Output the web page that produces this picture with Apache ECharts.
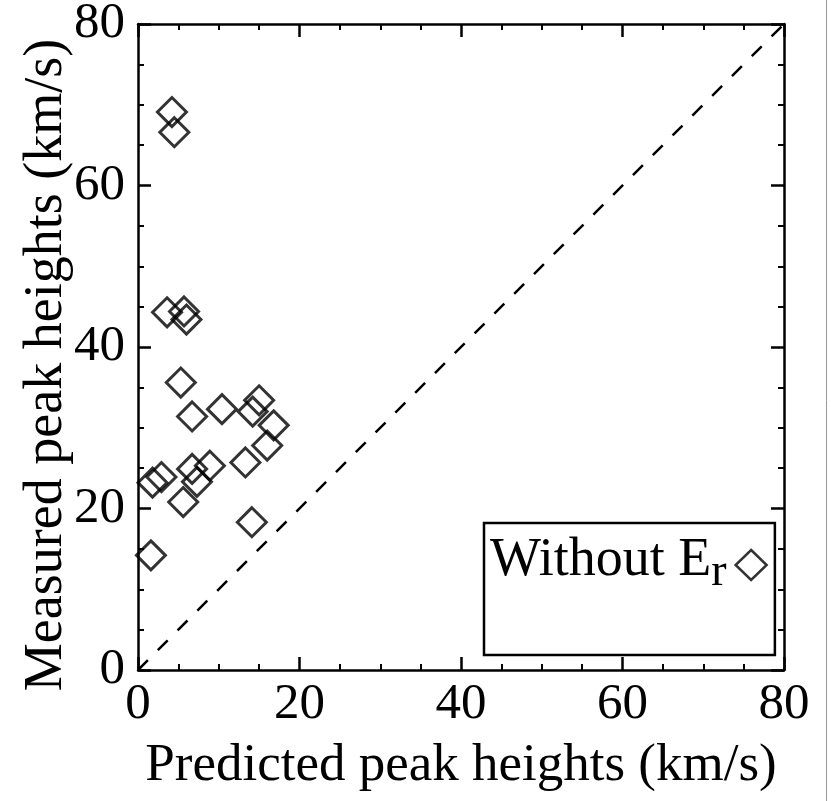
<!DOCTYPE html>
<html><head><meta charset="utf-8">
<script src="https://cdn.jsdelivr.net/npm/echarts@6/dist/echarts.min.js"></script>
<style>html,body{margin:0;padding:0;background:#fff}#c{width:831px;height:801px}</style>
</head><body><div id="c"></div>
<script>
// ---- data ----
const xTickValues = [0, 20, 40, 60, 80];
const yTickValues = [0, 20, 40, 60, 80];
const predicted = [4.2, 4.5, 3.6, 5.7, 6.0, 5.3, 6.7, 10.4, 14.2, 15.0, 16.8, 16.0, 13.3, 6.7, 7.3, 8.9, 1.8, 2.9, 5.6, 14.1, 1.6];
const measured  = [69.1, 66.6, 44.3, 44.4, 43.4, 35.6, 31.4, 32.3, 32.0, 33.4, 30.3, 27.8, 25.7, 24.9, 23.3, 25.3, 23.2, 23.9, 20.8, 18.3, 14.2];
const refLineX = [0, 80];
const refLineY = [0, 80];
const seriesName = 'Without Er';
const xName = 'Predicted peak heights (km/s)';
const yName = 'Measured peak heights (km/s)';

const FONT = '"Liberation Serif", "Times New Roman", serif';
const chart = echarts.init(document.getElementById('c'), null, {renderer: 'canvas'});

function axisBase(pos, showLabel) {
  return {
    type: 'value', min: 0, max: 80, interval: 20, position: pos,
    axisLine: {show: true, onZero: false, lineStyle: {color: '#000', width: 2.5}},
    axisTick: {show: true, inside: true, length: 13, lineStyle: {color: '#000', width: 2.5}},
    minorTick: {show: true, splitNumber: 4, length: 6, lineStyle: {color: '#000', width: 2}},
    splitLine: {show: false},
    axisLabel: {show: showLabel, fontFamily: FONT, fontSize: 51, color: '#000',
      formatter: v => String(v)}
  };
}

const xBottom = Object.assign(axisBase('bottom', true), {
  name: xName, nameLocation: 'middle', nameGap: 70, nameMoveOverlap: false,
  nameTextStyle: {fontFamily: FONT, fontSize: 53, color: '#000'}
});
xBottom.axisLabel.margin = 9;
const yLeft = Object.assign(axisBase('left', true), {
  name: yName, nameLocation: 'middle', nameGap: 64, nameRotate: 90, nameMoveOverlap: false,
  nameTextStyle: {fontFamily: FONT, fontSize: 54, color: '#000', padding: [0, 36, 0, 0]}
});
yLeft.axisLabel.margin = 13;

const pts = predicted.map((x, i) => [x, measured[i]]);
const refLine = refLineX.map((x, i) => [x, refLineY[i]]);

chart.setOption({
  animation: false,
  backgroundColor: '#fff',
  grid: {left: 138, right: 47, top: 24, bottom: 131, containLabel: false, outerBoundsMode: 'none'},
  xAxis: [xBottom, axisBase('top', false)],
  yAxis: [yLeft, axisBase('right', false)],
  legend: {
    show: true, left: 484, top: 523, orient: 'horizontal', align: 'right',
    padding: [11, 7, 59, 6],
    borderColor: '#000', borderWidth: 2.5,
    itemWidth: 31, itemHeight: 30, icon: 'diamond',
    itemStyle: {color: 'rgba(0,0,0,0)', borderColor: '#000', borderWidth: 2.5},
    formatter: () => '{a|Without E}{b|r}',
    textStyle: {
      fontFamily: FONT, fontSize: 54, color: '#000',
      rich: {
        a: {fontFamily: FONT, fontSize: 54, color: '#000', verticalAlign: 'bottom', padding: [0, 0, 8, 0]},
        b: {fontFamily: FONT, fontSize: 46, color: '#000', verticalAlign: 'bottom', padding: [0, 4, 0, 0]}
      }
    },
    data: [seriesName]
  },
  graphic: [{
    type: 'line', silent: true, z: 100,
    shape: {x1: 826.5, y1: 0, x2: 826.5, y2: 801},
    style: {stroke: '#999', lineWidth: 1}
  }],
  series: [
    {
      type: 'line', name: 'ref', data: refLine, showSymbol: false, symbol: 'none',
      lineStyle: {color: '#000', width: 2.5, type: [14, 14]}, silent: true, z: 1
    },
    {
      type: 'scatter', name: seriesName, data: pts, symbol: 'diamond', symbolSize: 29,
      itemStyle: {color: 'rgba(0,0,0,0)', borderColor: '#000', borderWidth: 3}, z: 3
    }
  ]
});
</script></body></html>
